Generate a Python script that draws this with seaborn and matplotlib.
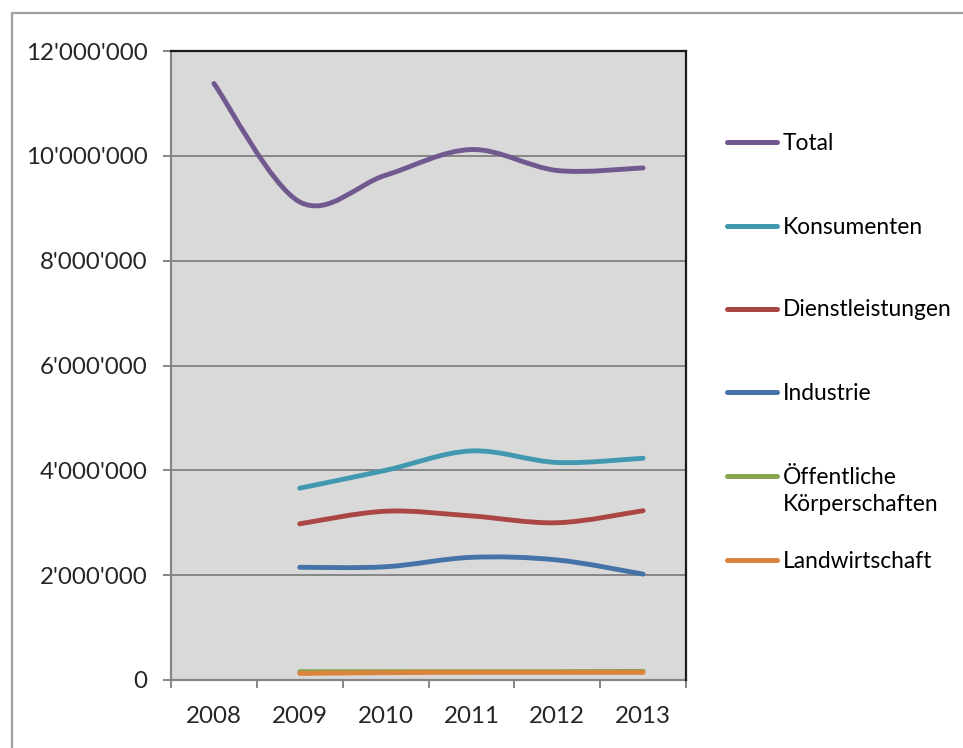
import numpy as np
import pandas as pd
import matplotlib
matplotlib.use("Agg")
import matplotlib.pyplot as plt
import seaborn as sns
from matplotlib.path import Path
from matplotlib.patches import PathPatch
from matplotlib.lines import Line2D
from matplotlib.ticker import FuncFormatter

# Daten
years = ["2008", "2009", "2010", "2011", "2012", "2013"]
total = [11380000, 9120000, 9630000, 10120000, 9720000, 9770000]
konsumenten = [np.nan, 3660000, 4000000, 4370000, 4150000, 4230000]
dienstleistungen = [np.nan, 2980000, 3220000, 3130000, 3000000, 3230000]
industrie = [np.nan, 2150000, 2160000, 2340000, 2290000, 2020000]
oeffentliche = [np.nan, 160000, 160000, 160000, 160000, 165000]
landwirtschaft = [np.nan, 125000, 140000, 145000, 145000, 145000]

series_names = ["Total", "Konsumenten", "Dienstleistungen", "Industrie",
                "Öffentliche\nKörperschaften", "Landwirtschaft"]
series_values = [total, konsumenten, dienstleistungen, industrie,
                 oeffentliche, landwirtschaft]
colors = ["#71588F", "#4198AF", "#AA4643", "#4572A7", "#89A54E", "#DB843D"]

df = pd.DataFrame({name: vals for name, vals in zip(series_names, series_values)})
df["Jahr"] = years

W, H = 963, 748
sns.set_theme(style="white")
plt.rcParams["font.family"] = ["Lato", "DejaVu Sans"]

fig = plt.figure(figsize=(W / 100, H / 100), dpi=100)
ax = fig.add_axes([171 / W, 1 - 680 / H, (686 - 171) / W, (680 - 51) / H])
ax.set_facecolor("#D9D9D9")


def smooth_patch(x, y, color):
    # Excel-artige Glättung: Bezier-Kurven durch die Punkte (Catmull-Rom)
    pts = np.column_stack([x, y])
    n = len(pts)
    verts = [pts[0]]
    codes = [Path.MOVETO]
    for i in range(n - 1):
        p_prev = pts[max(i - 1, 0)]
        p0, p1 = pts[i], pts[i + 1]
        p_next = pts[min(i + 2, n - 1)]
        c1 = p0 + (p1 - p_prev) / 6
        c2 = p1 - (p_next - p0) / 6
        verts += [c1, c2, p1]
        codes += [Path.CURVE4] * 3
    patch = PathPatch(Path(verts, codes), facecolor="none", edgecolor=color,
                      lw=3.5, capstyle="round", joinstyle="round", zorder=3)
    ax.add_patch(patch)


xpos = np.arange(len(years))
for name, color in zip(series_names, colors):
    vals = df[name].to_numpy(dtype=float)
    mask = ~np.isnan(vals)
    smooth_patch(xpos[mask], vals[mask], color)

ax.set_xlim(-0.5, len(years) - 0.5)
ax.set_ylim(0, 12000000)
ax.set_yticks(np.arange(0, 12000001, 2000000))
ax.yaxis.set_major_formatter(FuncFormatter(lambda v, p: f"{int(v):,}".replace(",", "'")))
ax.grid(axis="y", color="#868686", lw=1.4)
ax.grid(axis="x", visible=False)
ax.set_axisbelow(True)

# Kategorien: Striche an den Grenzen, Beschriftung in der Mitte
ax.set_xticks(np.arange(-0.5, len(years), 1.0))
ax.set_xticklabels([])
ax.set_xticks(xpos, minor=True)
ax.set_xticklabels(years, minor=True)
ax.tick_params(axis="x", which="major", direction="out", length=5.5, width=1.4,
               color="#868686", bottom=True)
ax.tick_params(axis="x", which="minor", length=0, pad=19, labelsize=17.4)
ax.tick_params(axis="y", direction="out", length=5.5, width=1.4, color="#868686",
               left=True, pad=11.5, labelsize=17.4)

for side in ["left", "bottom"]:
    ax.spines[side].set_color("#868686")
    ax.spines[side].set_linewidth(1.6)
for side in ["top", "right"]:
    ax.spines[side].set_color("#1A1A1A")
    ax.spines[side].set_linewidth(1.6)
    ax.spines[side].set_zorder(4)

# Legende rechts
leg_y = [142, 226, 309, 392, 490, 560]
for name, color, yy in zip(series_names, colors, leg_y):
    ly = 476 if "\n" in name else yy
    fig.add_artist(Line2D([727 / W, 777 / W], [1 - ly / H, 1 - ly / H], color=color,
                          lw=3.6, solid_capstyle="round"))
    fig.text(783 / W, 1 - (yy + 1) / H, name, fontsize=16.4, va="center", ha="left",
             linespacing=1.3, color="black")

# Rahmen des Diagrammbereichs
fig.add_artist(Line2D([12 / W, 12 / W], [0, 1 - 13 / H], color="#A0A0A0", lw=1.6))
fig.add_artist(Line2D([12 / W, 1], [1 - 13 / H, 1 - 13 / H], color="#A0A0A0", lw=1.6))

fig.savefig("out.png", dpi=100)
